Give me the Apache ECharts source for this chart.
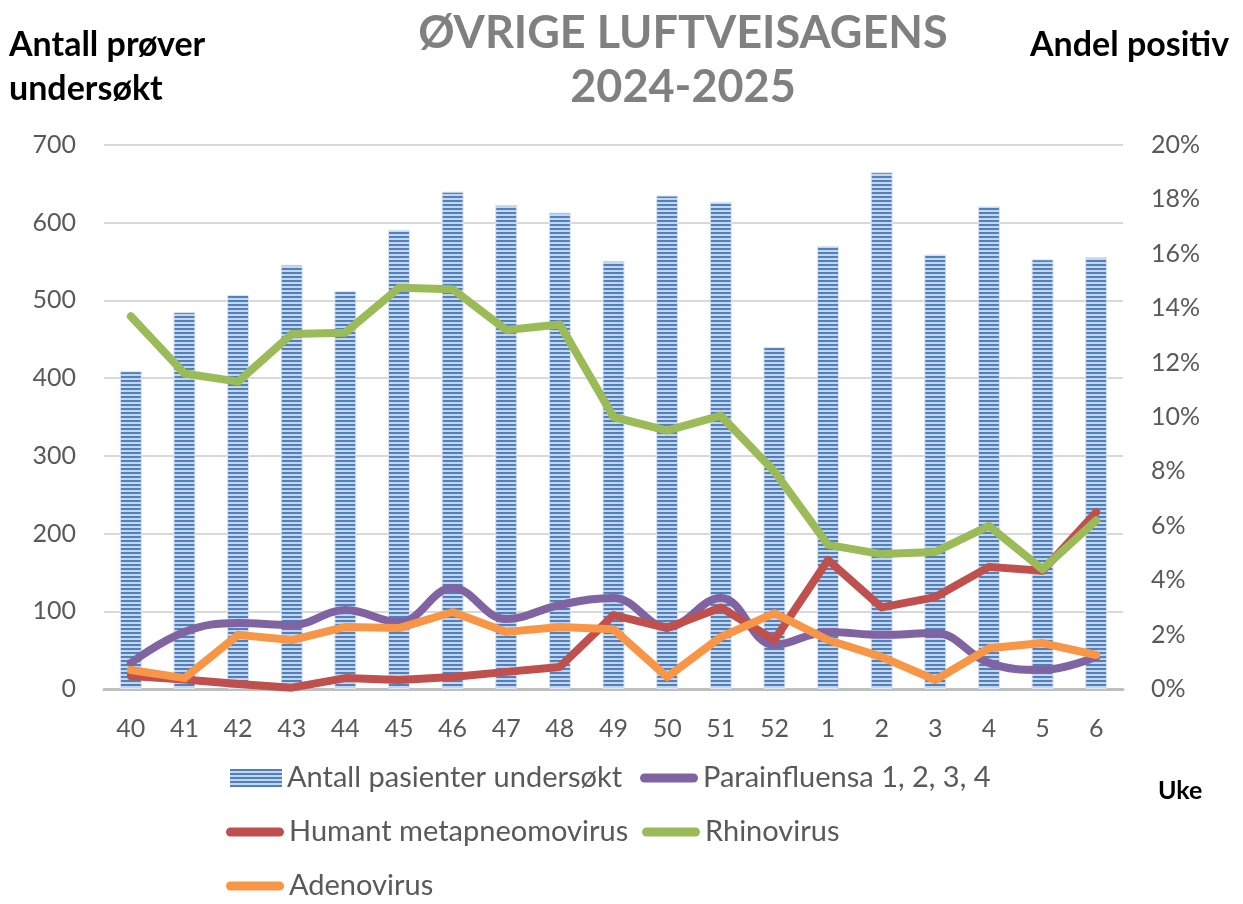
<!DOCTYPE html>
<html>
<head>
<meta charset="utf-8">
<script src="https://cdn.jsdelivr.net/npm/echarts@6/dist/echarts.min.js"></script>
<style>
  html, body { margin: 0; padding: 0; background: #fff; }
  #chart { width: 1243px; height: 904px; }
</style>
</head>
<body>
<div id="chart"></div>
<script>
// uke (week) categories
const weeks = ['40','41','42','43','44','45','46','47','48','49','50','51','52','1','2','3','4','5','6']

// antall pasienter undersøkt (left axis)
const antall = [409, 485, 507, 546, 512, 591, 640, 623, 613, 551, 635, 627, 440, 570, 665, 559, 621, 553, 556]

// andel positiv, in percent (right axis)
const parainfluensa = [0.96, 2.1, 2.43, 2.35, 2.9, 2.46, 3.71, 2.57, 3.09, 3.35, 2.28, 3.35, 1.62, 2.1, 1.99, 2.06, 0.96, 0.7, 1.18]
const hmpv = [0.48, 0.35, 0.18, 0.05, 0.4, 0.33, 0.44, 0.63, 0.81, 2.72, 2.24, 3.0, 1.8, 4.74, 3.0, 3.38, 4.49, 4.35, 6.5]
const rhinovirus = [13.7, 11.6, 11.3, 13.05, 13.1, 14.75, 14.7, 13.2, 13.4, 10.0, 9.5, 10.05, 8.0, 5.3, 4.96, 5.04, 6.0, 4.4, 6.2]
const adenovirus = [0.7, 0.4, 1.99, 1.8, 2.28, 2.24, 2.83, 2.1, 2.28, 2.2, 0.44, 1.91, 2.79, 1.8, 1.18, 0.33, 1.5, 1.69, 1.25]

const font = 'Lato'
const labelColor = '#595959'

// striped fill for the bars
const stripe = document.createElement('canvas')
stripe.width = 4
stripe.height = 4
const sctx = stripe.getContext('2d')
sctx.fillStyle = '#c5d5ed'
sctx.fillRect(0, 0, 4, 4)
sctx.fillStyle = '#4f81bd'
sctx.fillRect(0, 0, 4, 2)

const pct = v => v.map(x => x / 100)

const lineSeries = (name, data, color, smooth) => ({
    name: name,
    type: 'line',
    yAxisIndex: 1,
    data: pct(data),
    symbol: 'none',
    smooth: smooth,
    lineStyle: { color: color, width: 8, cap: 'round', join: 'round' },
    itemStyle: { color: color }
})

// rounded line icon for the legend
const pill = 'path://M4.5,0 L53.5,0 A4.5,4.5 0 0 1 53.5,9 L4.5,9 A4.5,4.5 0 0 1 4.5,0 Z'

const legendItem = (name, left, top, isBar) => ({
    data: [name],
    left: left,
    top: top,
    padding: 0,
    icon: isBar ? 'rect' : pill,
    itemWidth: isBar ? 52 : 58,
    itemHeight: isBar ? 18 : 9,
    itemStyle: { borderWidth: 0 },
    lineStyle: { width: 0 },
    textStyle: { fontFamily: font, fontSize: 29, lineHeight: 34, color: labelColor }
})

let chart = echarts.init(document.getElementById('chart'))
chart.setOption({
    animation: false,
    title: [
        {
            text: 'ØVRIGE LUFTVEISAGENS\n2024-2025',
            left: 678,
            top: 1,
            textAlign: 'center',
            textStyle: {
                fontFamily: font,
                fontWeight: 'bold',
                fontSize: 45,
                lineHeight: 54,
                color: '#808080'
            }
        },
        {
            text: 'Antall prøver\nundersøkt',
            left: 4,
            top: 18,
            textStyle: { fontFamily: font, fontWeight: 'bold', fontSize: 34, lineHeight: 44, color: '#000' }
        },
        {
            text: 'Andel positiv',
            left: 1025,
            top: 18,
            textStyle: { fontFamily: font, fontWeight: 'bold', fontSize: 34, lineHeight: 44, color: '#000' }
        },
        {
            text: 'Uke',
            left: 1153,
            top: 773,
            textStyle: { fontFamily: font, fontWeight: 'bold', fontSize: 25, color: '#000' }
        }
    ],
    legend: [
        legendItem('Antall pasienter undersøkt', 230, 761, true),
        legendItem('Parainfluensa 1, 2, 3, 4', 640, 761, false),
        legendItem('Humant metapneomovirus', 226, 815, false),
        legendItem('Rhinovirus', 642, 815, false),
        legendItem('Adenovirus', 226, 869, false)
    ],
    grid: {
        left: 104,
        right: 120,
        top: 145,
        bottom: 215,
        containLabel: false
    },
    xAxis: {
        type: 'category',
        data: weeks,
        axisLine: { lineStyle: { color: '#bfbfbf', width: 3 } },
        axisTick: { show: false },
        axisLabel: { fontFamily: font, fontSize: 25, color: labelColor, margin: 27 }
    },
    yAxis: [
        {
            type: 'value',
            min: 0,
            max: 700,
            interval: 100,
            axisLine: { show: false },
            axisTick: { show: false },
            axisLabel: { fontFamily: font, fontSize: 25, color: labelColor, margin: 28 },
            splitLine: { lineStyle: { color: '#d9d9d9', width: 2 } }
        },
        {
            type: 'value',
            min: 0,
            max: 0.2,
            interval: 0.02,
            axisLine: { show: false },
            axisTick: { show: false },
            axisLabel: {
                fontFamily: font, fontSize: 25, color: labelColor, margin: 28,
                formatter: v => Math.round(v * 100) + '%'
            },
            splitLine: { show: false }
        }
    ],
    series: [
        {
            name: 'Antall pasienter undersøkt',
            type: 'bar',
            data: antall,
            barWidth: 22,
            itemStyle: {
                color: { image: stripe, repeat: 'repeat' },
                borderColor: '#dce6f2',
                borderWidth: 1
            }
        },
        lineSeries('Parainfluensa 1, 2, 3, 4', parainfluensa, '#8064a2', 0.4),
        lineSeries('Humant metapneomovirus', hmpv, '#c0504d', false),
        lineSeries('Rhinovirus', rhinovirus, '#9bbb59', false),
        lineSeries('Adenovirus', adenovirus, '#f79646', false)
    ]
})
</script>
</body>
</html>
